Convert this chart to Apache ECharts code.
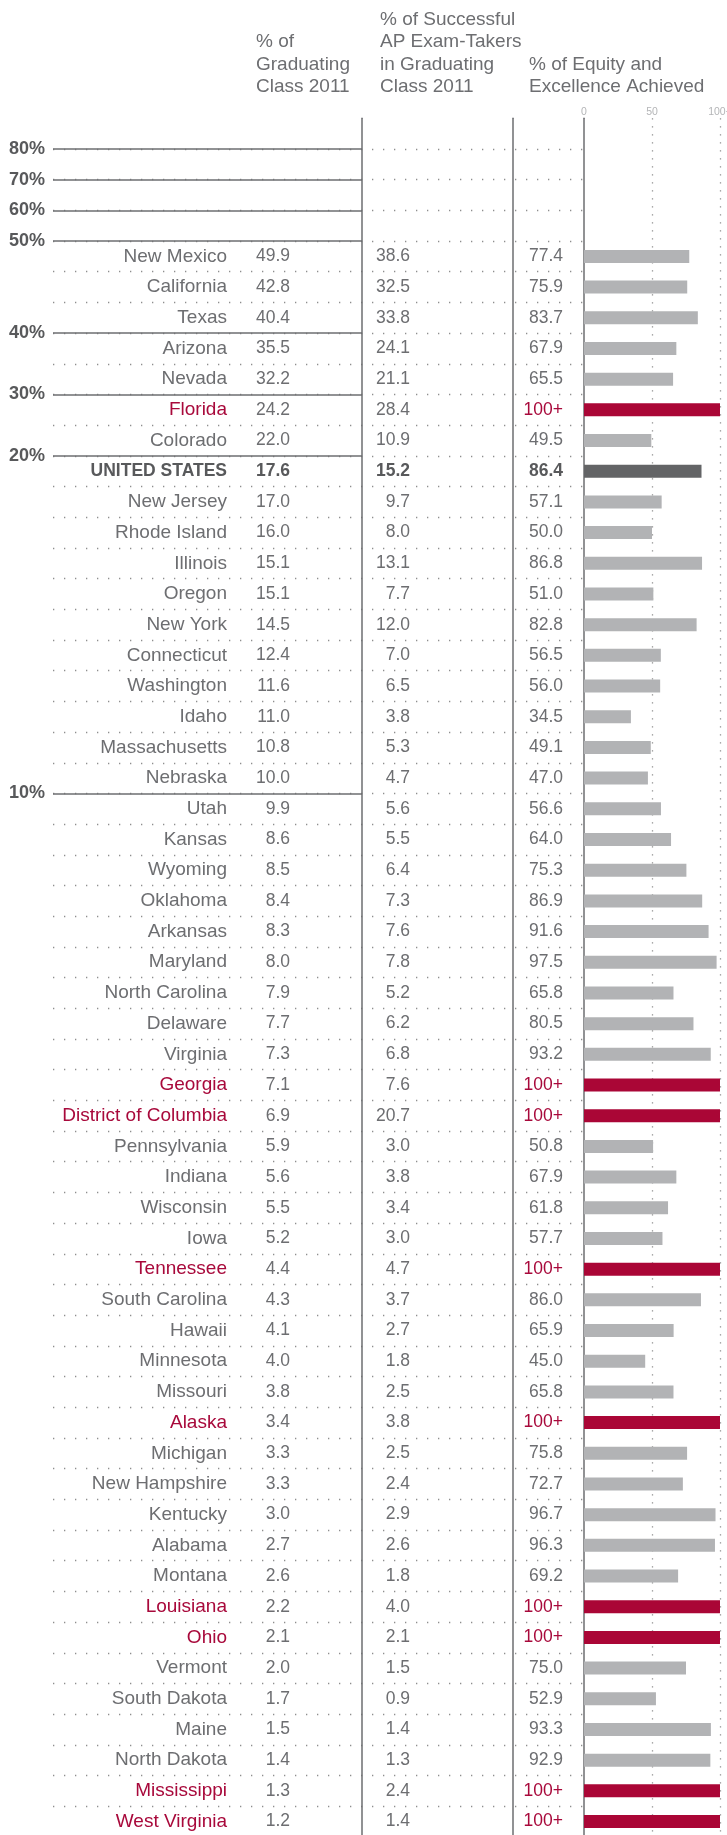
<!DOCTYPE html>
<html>
<head>
<meta charset="utf-8">
<script src="https://cdn.jsdelivr.net/npm/echarts@6/dist/echarts.min.js"></script>
<style>
html, body { margin: 0; padding: 0; background: #ffffff; }
#chart { width: 727px; height: 1835px; }
</style>
</head>
<body>
<div id="chart"></div>
<script>
// table rows, top to bottom
const states = [
  'New Mexico', 'California', 'Texas', 'Arizona', 'Nevada', 'Florida', 'Colorado', 'UNITED STATES',
  'New Jersey', 'Rhode Island', 'Illinois', 'Oregon', 'New York', 'Connecticut', 'Washington', 'Idaho',
  'Massachusetts', 'Nebraska', 'Utah', 'Kansas', 'Wyoming', 'Oklahoma', 'Arkansas', 'Maryland',
  'North Carolina', 'Delaware', 'Virginia', 'Georgia', 'District of Columbia', 'Pennsylvania', 'Indiana',
  'Wisconsin', 'Iowa', 'Tennessee', 'South Carolina', 'Hawaii', 'Minnesota', 'Missouri', 'Alaska',
  'Michigan', 'New Hampshire', 'Kentucky', 'Alabama', 'Montana', 'Louisiana', 'Ohio', 'Vermont',
  'South Dakota', 'Maine', 'North Dakota', 'Mississippi', 'West Virginia'
];
// % of graduating class 2011
const gradPct = [
  49.9, 42.8, 40.4, 35.5, 32.2, 24.2, 22.0, 17.6, 17.0, 16.0, 15.1, 15.1, 14.5, 12.4, 11.6, 11.0,
  10.8, 10.0, 9.9, 8.6, 8.5, 8.4, 8.3, 8.0, 7.9, 7.7, 7.3, 7.1, 6.9, 5.9, 5.6, 5.5, 5.2, 4.4, 4.3,
  4.1, 4.0, 3.8, 3.4, 3.3, 3.3, 3.0, 2.7, 2.6, 2.2, 2.1, 2.0, 1.7, 1.5, 1.4, 1.3, 1.2
];
// % of successful AP exam-takers in graduating class 2011
const apPct = [
  38.6, 32.5, 33.8, 24.1, 21.1, 28.4, 10.9, 15.2, 9.7, 8.0, 13.1, 7.7, 12.0, 7.0, 6.5, 3.8,
  5.3, 4.7, 5.6, 5.5, 6.4, 7.3, 7.6, 7.8, 5.2, 6.2, 6.8, 7.6, 20.7, 3.0, 3.8, 3.4, 3.0, 4.7, 3.7,
  2.7, 1.8, 2.5, 3.8, 2.5, 2.4, 2.9, 2.6, 1.8, 4.0, 2.1, 1.5, 0.9, 1.4, 1.3, 2.4, 1.4
];
// % of equity and excellence achieved ('100+' = more than 100)
const equityPct = [
  '77.4', '75.9', '83.7', '67.9', '65.5', '100+', '49.5', '86.4', '57.1', '50.0', '86.8', '51.0',
  '82.8', '56.5', '56.0', '34.5', '49.1', '47.0', '56.6', '64.0', '75.3', '86.9', '91.6', '97.5',
  '65.8', '80.5', '93.2', '100+', '100+', '50.8', '67.9', '61.8', '57.7', '100+', '86.0', '65.9',
  '45.0', '65.8', '100+', '75.8', '72.7', '96.7', '96.3', '69.2', '100+', '100+', '75.0', '52.9',
  '93.3', '92.9', '100+', '100+'
];
const thresholds = [80, 70, 60, 50, 40, 30, 20, 10];
const equityTicks = { 0: '0', 50: '50', 100: '100+' };

const FONT = "'Liberation Sans', Arial, sans-serif";
const GREY = '#6d6e71';
const RED = '#a8093b';
const DARK = '#58595b';
const TOTAL = 'UNITED STATES';

// four empty rows above the table hold the 80%-50% rules
const blanks = ['', '', '', ''];
const rows = blanks.concat(states);
const gridTop = 118.3;
const gridHeight = 1718.6;

function rowStyle(i, useRed) {
  if (states[i] === TOTAL) return 'b';
  return useRed && equityPct[i] === '100+' ? 'r' : 'n';
}
function cell(list, fmt, useRed) {
  return function (v, idx) {
    const i = idx - blanks.length;
    if (i < 0) return '';
    return '{' + rowStyle(i, useRed) + '|' + fmt(list[i]) + '}';
  };
}
function richStyles(size) {
  return {
    n: { color: GREY, fontSize: size, fontFamily: FONT },
    r: { color: RED, fontSize: size, fontFamily: FONT },
    b: { color: DARK, fontSize: 17.5, fontWeight: 'bold', fontFamily: FONT }
  };
}
function labelAxis(offset, margin, list, fmt, size, showLine, useRed) {
  return {
    gridIndex: 0, type: 'category', data: rows, inverse: true, position: 'left', offset: offset,
    axisLine: { show: showLine, lineStyle: { color: GREY, width: 1.5 } },
    axisTick: { show: false },
    splitLine: { show: false },
    axisLabel: { interval: 0, margin: margin, formatter: cell(list, fmt, useRed), rich: richStyles(size) }
  };
}

// rules sit under the last row still at or above each threshold
const rules = [];
let prev = Infinity;
thresholds.slice().sort((a, b) => a - b).forEach(t => {
  let p = blanks.length + gradPct.filter(g => g >= t).length;
  if (p >= prev) p = prev - 1;
  rules.push({ name: t + '%', yAxis: p });
  prev = p;
});

const barColor = (s, i) => s === '100+' ? '#aa0636' : (states[i] === TOTAL ? '#636466' : '#b2b3b5');
const barData = blanks.map(() => '-').concat(equityPct.map((s, i) => ({
  value: Math.min(parseFloat(s), 100),
  itemStyle: { color: barColor(s, i) }
})));

const chart = echarts.init(document.getElementById('chart'), null, { renderer: 'canvas' });
chart.setOption({
  animation: false,
  backgroundColor: '#ffffff',
  textStyle: { fontFamily: FONT },
  title: [
    { text: '% of\nGraduating\nClass 2011', left: 256, top: 30.8 },
    { text: '% of Successful\nAP Exam-Takers\nin Graduating\nClass 2011', left: 380, top: 8.3 },
    { text: '% of Equity and\nExcellence Achieved', left: 529, top: 53.3 }
  ].map(t => Object.assign(t, {
    padding: 0,
    textStyle: { fontSize: 19, lineHeight: 22.5, fontWeight: 'normal', color: GREY, fontFamily: FONT }
  })),
  grid: [
    { left: 584, width: 136, top: gridTop, height: gridHeight, outerBoundsMode: 'none' },
    { left: 53, width: 531, top: gridTop, height: gridHeight, outerBoundsMode: 'none' },
    { left: 53, width: 309, top: gridTop, height: gridHeight, outerBoundsMode: 'none' }
  ],
  xAxis: [
    {
      gridIndex: 0, type: 'value', min: 0, max: 100, interval: 50, position: 'top',
      axisLine: { show: false }, axisTick: { show: false },
      axisLabel: { margin: 1, fontSize: 10.5, color: '#b4b5b7', fontFamily: FONT, formatter: v => equityTicks[v] },
      splitLine: { show: true, showMinLine: false, lineStyle: { color: '#8e8e8e', width: 1.3, type: [1.3, 6.7] } }
    },
    { gridIndex: 1, type: 'value', min: 0, max: 1, show: false },
    { gridIndex: 2, type: 'value', min: 0, max: 1, show: false }
  ],
  yAxis: [
    labelAxis(0, 21, equityPct, s => s, 17.5, true, true),
    labelAxis(71, 103, apPct, v => v.toFixed(1), 17.5, true, false),
    labelAxis(222, 72, gradPct, v => v.toFixed(1), 17.5, true, false),
    labelAxis(357, 0, states, s => s, 19, false, true),
    {
      gridIndex: 1, type: 'value', min: 0, max: rows.length, interval: 1, inverse: true,
      axisLine: { show: false }, axisTick: { show: false }, axisLabel: { show: false },
      splitLine: {
        show: true, showMinLine: false, showMaxLine: false,
        lineStyle: { color: '#8e8e8e', width: 1.3, type: [1.3, 9.7] }
      }
    },
    { gridIndex: 2, type: 'value', min: 0, max: rows.length, inverse: true, show: false }
  ],
  series: [
    {
      type: 'bar', xAxisIndex: 0, yAxisIndex: 0, barWidth: 13, silent: true,
      data: barData
    },
    {
      type: 'line', xAxisIndex: 2, yAxisIndex: 5, data: [], silent: true,
      markLine: {
        silent: true, symbol: 'none', animation: false,
        lineStyle: { color: GREY, width: 1.5, type: 'solid' },
        label: {
          position: 'start', distance: 8, formatter: '{b}',
          fontSize: 18, fontWeight: 'bold', color: DARK, fontFamily: FONT
        },
        data: rules
      }
    }
  ]
});
</script>
</body>
</html>
